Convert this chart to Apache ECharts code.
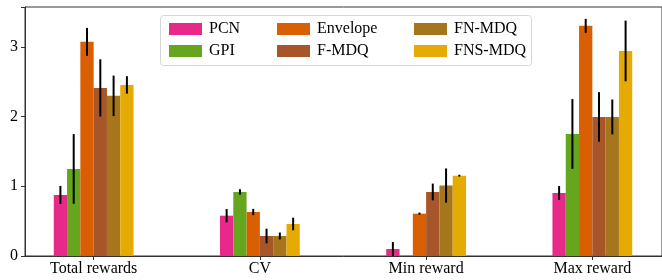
<!DOCTYPE html>
<html>
<head>
<meta charset="utf-8">
<script src="https://cdn.jsdelivr.net/npm/echarts@6/dist/echarts.min.js"></script>
<style>
  html, body { margin: 0; padding: 0; background: #fff; }
  #main { width: 662px; height: 280px; }
</style>
</head>
<body>
<div id="main"></div>
<script>
// categories along x
var categories = ['Total rewards', 'CV', 'Min reward', 'Max reward'];
var methods = ['PCN', 'GPI', 'Envelope', 'F-MDQ', 'FN-MDQ', 'FNS-MDQ'];
var colors = ['#e7298a', '#66a61e', '#d95f02', '#a65628', '#a6761d', '#e6ab02'];

// mean values per method (one per category)
var pcn     = [0.875, 0.578, 0.100, 0.904];
var gpi     = [1.248, 0.918, 0.005, 1.750];
var envelope= [3.070, 0.631, 0.607, 3.300];
var fmdq    = [2.410, 0.287, 0.918, 1.994];
var fnmdq   = [2.296, 0.287, 1.010, 1.994];
var fnsmdq  = [2.453, 0.459, 1.152, 2.940];

// error (half length of the black bar)
var pcnErr     = [0.13, 0.095, 0.10, 0.10];
var gpiErr     = [0.50, 0.040, 0.00, 0.50];
var envelopeErr= [0.20, 0.045, 0.015, 0.10];
var fmdqErr    = [0.41, 0.105, 0.12, 0.355];
var fnmdqErr   = [0.29, 0.050, 0.245, 0.25];
var fnsmdqErr  = [0.125, 0.090, 0.013, 0.435];

var yTicks = [0, 1, 2, 3];

var values = [pcn, gpi, envelope, fmdq, fnmdq, fnsmdq];
var errors = [pcnErr, gpiErr, envelopeErr, fmdqErr, fnmdqErr, fnsmdqErr];

var myChart = echarts.init(document.getElementById('main'));
var font = 'Liberation Serif';
var barW = 0.08;

function makeSeries(i) {
    var data = categories.map(function (c, k) {
        return [k, values[i][k], errors[i][k]];
    });
    return {
        name: methods[i],
        type: 'custom',
        clip: true,
        itemStyle: { color: colors[i] },
        encode: { x: 0, y: 1 },
        data: data,
        renderItem: function (params, api) {
            var x = api.value(0) + (i - 2.5) * barW;
            var v = api.value(1), e = api.value(2);
            var p0 = api.coord([x - barW / 2, 0]);
            var p1 = api.coord([x + barW / 2, v]);
            var top = api.coord([x, v + e]);
            var bot = api.coord([x, Math.max(v - e, 0)]);
            var children = [{
                type: 'rect',
                shape: { x: p0[0], y: p1[1], width: p1[0] - p0[0], height: p0[1] - p1[1] },
                style: { fill: colors[i] }
            }];
            if (e > 0) {
                children.push({
                    type: 'line',
                    shape: { x1: top[0], y1: top[1], x2: bot[0], y2: bot[1] },
                    style: { stroke: '#000', lineWidth: 2 }
                });
            }
            return { type: 'group', children: children };
        }
    };
}

// legend laid out in 3 columns, 2 rows (column order like matplotlib)
var legendPos = [
    [164, 15], [164, 37],
    [272, 15], [272, 37],
    [409, 15], [409, 37]
];
var legends = methods.map(function (m, i) {
    return {
        data: [m],
        left: legendPos[i][0],
        top: legendPos[i][1],
        icon: 'rect',
        itemWidth: 33,
        itemHeight: 12,
        selectedMode: false,
        textStyle: { fontFamily: font, fontSize: 16, color: '#000', lineHeight: 18, padding: [0, 0, 0, 2] }
    };
});

var option = {
    animation: false,
    grid: { left: 25, right: -3, top: 7, bottom: 24, show: true, borderColor: '#333', borderWidth: 1 },
    legend: legends,
    graphic: [{
        type: 'rect',
        z: 3,
        shape: { x: 160.5, y: 15.5, width: 371, height: 50, r: 3 },
        style: { fill: 'rgba(255,255,255,0.8)', stroke: '#d6d6d6', lineWidth: 1 }
    }],
    xAxis: {
        type: 'value',
        min: -0.413,
        max: 3.419,
        splitLine: { show: false },
        axisLine: { show: true, onZero: false, lineStyle: { color: '#333' } },
        axisTick: { show: true, customValues: [0, 1, 2, 3], length: 4, lineStyle: { color: '#333' } },
        axisLabel: {
            customValues: [0, 1, 2, 3],
            formatter: function (v) { return categories[Math.round(v)]; },
            fontFamily: font, fontSize: 16, color: '#000', margin: 5
        }
    },
    yAxis: {
        type: 'value',
        min: 0,
        max: 3.57,
        interval: 1,
        splitLine: { show: false },
        axisLine: { show: true, onZero: false, lineStyle: { color: '#333' } },
        axisTick: { show: true, length: 4, lineStyle: { color: '#333' } },
        axisLabel: {
            customValues: yTicks,
            fontFamily: font, fontSize: 16, color: '#000', margin: 7
        }
    },
    series: methods.map(function (m, i) { return makeSeries(i); })
};

myChart.setOption(option);
</script>
</body>
</html>
